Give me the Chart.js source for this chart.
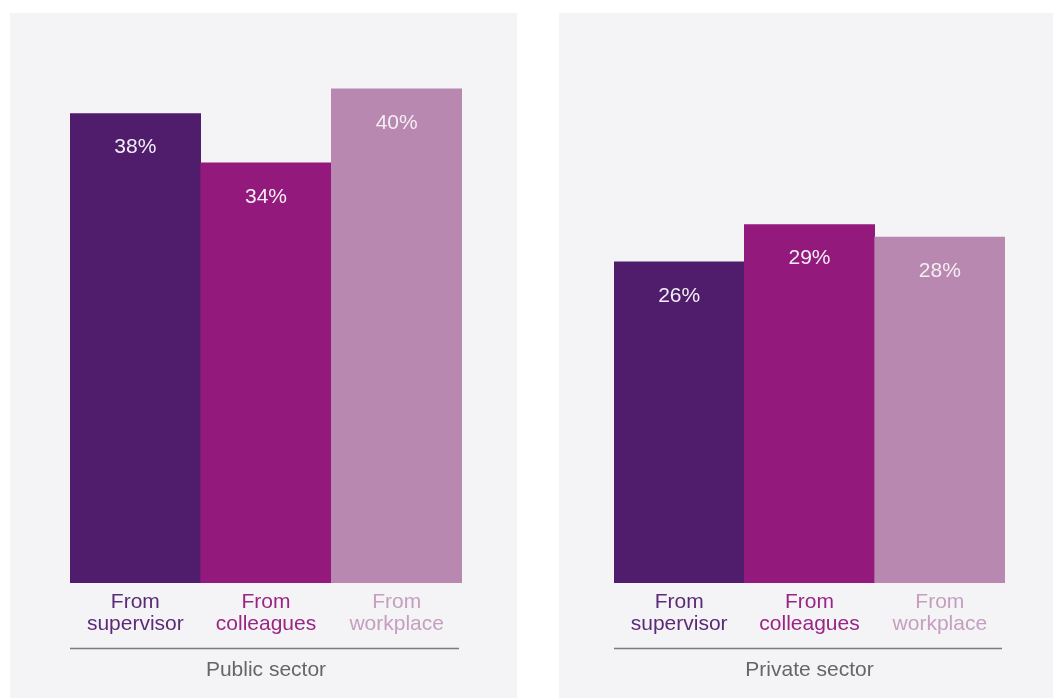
<!DOCTYPE html>
<html>
<head>
<meta charset="utf-8">
<script src="https://cdn.jsdelivr.net/npm/chart.js@4"></script>
<style>
  html, body { margin: 0; padding: 0; background: #fff; }
  body { width: 1053px; height: 698px; position: relative; overflow: hidden; }
  .panel { position: absolute; top: 13px; height: 685px; background: #f4f4f6; }
  #panel-public { left: 10px; width: 507px; }
  #panel-private { left: 559px; width: 494px; }
</style>
</head>
<body>
<div class="panel" id="panel-public"><canvas id="chart-public"></canvas></div>
<div class="panel" id="panel-private"><canvas id="chart-private"></canvas></div>
<script>
// données
const categories = [['From', 'supervisor'], ['From', 'colleagues'], ['From', 'workplace']];
const publicValues = [38, 34, 40];
const privateValues = [26, 29, 28];
const sectorTitles = ['Public sector', 'Private sector'];

const barColors = ['#4f1d6b', '#931a7c', '#b888b0'];
const labelColors = ['#5b2b77', '#9a2584', '#c59fc0'];

Chart.defaults.font.family = "'Liberation Sans', Arial, sans-serif";

// valeurs en % dans le haut des barres
const valueLabels = {
    id: 'valueLabels',
    afterDatasetsDraw(chart) {
        const ctx = chart.ctx;
        const meta = chart.getDatasetMeta(0);
        const data = chart.data.datasets[0].data;
        ctx.save();
        ctx.fillStyle = '#f3eef4';
        ctx.font = "21px 'Liberation Sans', Arial, sans-serif";
        ctx.textAlign = 'center';
        ctx.textBaseline = 'middle';
        meta.data.forEach((bar, i) => {
            ctx.fillText(data[i] + '%', bar.x, bar.y + 34);
        });
        ctx.restore();
    }
};

// trait gris entre les libellés et le titre du secteur
const dividerLine = {
    id: 'dividerLine',
    afterDraw(chart) {
        const { ctx, chartArea } = chart;
        const y = chart.scales.x.top + 65.5;
        ctx.save();
        ctx.strokeStyle = '#7a7a7a';
        ctx.lineWidth = 1.5;
        ctx.beginPath();
        ctx.moveTo(chartArea.left, y);
        ctx.lineTo(chartArea.right - 3, y);
        ctx.stroke();
        ctx.restore();
    }
};

function makeChart(canvasId, values, title, padLeft, padRight) {
    const ctx = document.getElementById(canvasId).getContext('2d');
    return new Chart(ctx, {
        type: 'bar',
        data: {
            labels: categories,
            datasets: [{
                data: values,
                backgroundColor: barColors,
                borderWidth: 0,
                barPercentage: 1,
                categoryPercentage: 1
            }]
        },
        options: {
            responsive: true,
            maintainAspectRatio: false,
            animation: false,
            layout: { padding: { left: padLeft, right: padRight, top: 14, bottom: 0 } },
            plugins: {
                legend: { display: false },
                tooltip: { enabled: false }
            },
            scales: {
                y: { display: false, min: 0, max: 45 },
                x: {
                    grid: { display: false, drawTicks: false },
                    border: { display: false },
                    ticks: {
                        color: (c) => labelColors[c.index],
                        font: { size: 21, lineHeight: 1.05 },
                        padding: 8,
                        maxRotation: 0,
                        autoSkip: false
                    },
                    title: {
                        display: true,
                        text: title,
                        color: '#666666',
                        font: { size: 21, lineHeight: 1.2 },
                        padding: { top: 0, bottom: 15 }
                    },
                    afterFit: (scale) => { scale.height = 115; }
                }
            }
        },
        plugins: [valueLabels, dividerLine]
    });
}

makeChart('chart-public', publicValues, sectorTitles[0], 60, 55);
makeChart('chart-private', privateValues, sectorTitles[1], 55, 48);
</script>
</body>
</html>
